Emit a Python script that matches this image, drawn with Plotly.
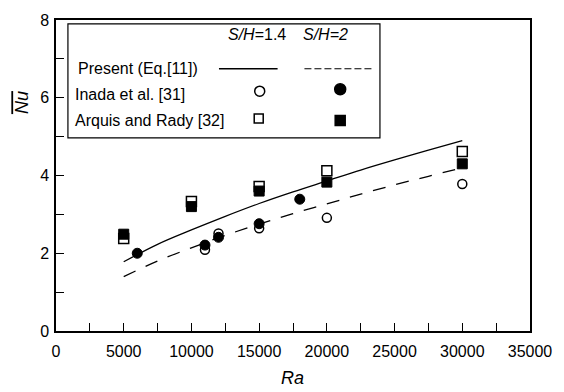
import plotly.graph_objects as go

# Data
ra_curve = [5000, 7500, 10000, 12500, 15000, 17500, 20000, 22500, 25000, 27500, 30000]
nu_present_14 = [1.78, 2.23, 2.60, 2.95, 3.28, 3.58, 3.86, 4.14, 4.40, 4.65, 4.90]
nu_present_2 = [1.40, 1.80, 2.14, 2.46, 2.75, 3.02, 3.27, 3.52, 3.76, 3.98, 4.20]

ra_inada_14 = [11000, 12000, 15000, 20000, 30000]
nu_inada_14 = [2.09, 2.51, 2.64, 2.91, 3.78]
ra_inada_2 = [6000, 11000, 12000, 15000, 18000]
nu_inada_2 = [2.00, 2.21, 2.41, 2.76, 3.39]

ra_arq_14 = [5000, 10000, 15000, 20000, 30000]
nu_arq_14 = [2.38, 3.33, 3.72, 4.12, 4.62]
ra_arq_2 = [5000, 10000, 15000, 20000, 30000]
nu_arq_2 = [2.49, 3.20, 3.60, 3.83, 4.30]

x_ticks = [0, 5000, 10000, 15000, 20000, 25000, 30000, 35000]
y_ticks = [0, 2, 4, 6, 8]

FONT = "Liberation Sans, Arial, sans-serif"

fig = go.Figure()
fig.add_trace(go.Scatter(x=ra_curve, y=nu_present_14, mode="lines", line_shape="spline",
                         line=dict(color="black", width=1.3), showlegend=False))
fig.add_trace(go.Scatter(x=ra_curve, y=nu_present_2, mode="lines", line_shape="spline",
                         line=dict(color="black", width=1.3, dash="13px,11px"), showlegend=False))
fig.add_trace(go.Scatter(x=ra_inada_14, y=nu_inada_14, mode="markers",
                         marker=dict(symbol="circle", size=9, color="white",
                                     line=dict(color="black", width=1.5)), showlegend=False))
fig.add_trace(go.Scatter(x=ra_arq_14, y=nu_arq_14, mode="markers",
                         marker=dict(symbol="square", size=10, color="white",
                                     line=dict(color="black", width=1.5)), showlegend=False))
fig.add_trace(go.Scatter(x=ra_inada_2, y=nu_inada_2, mode="markers",
                         marker=dict(symbol="circle", size=10, color="black",
                                     line=dict(color="black", width=1)), showlegend=False))
fig.add_trace(go.Scatter(x=ra_arq_2, y=nu_arq_2, mode="markers",
                         marker=dict(symbol="square", size=10, color="black",
                                     line=dict(color="black", width=1)), showlegend=False))

axis_common = dict(showgrid=False, zeroline=False, showline=True, linecolor="black",
                   linewidth=1.5, mirror=True, ticks="inside", ticklen=8, tickwidth=1.2,
                   tickcolor="black", tickfont=dict(family=FONT, size=16, color="black"))

fig.update_xaxes(range=[0, 35000], tickmode="array", tickvals=x_ticks,
                 ticktext=[str(v) for v in x_ticks], ticklabelstandoff=5,
                 minor=dict(dtick=2500, ticks="inside", ticklen=8, tickwidth=1.2, tickcolor="black"),
                 **axis_common)
fig.update_yaxes(range=[0, 8], tickmode="array", tickvals=y_ticks,
                 ticktext=[str(v) for v in y_ticks], ticklabelstandoff=2,
                 minor=dict(dtick=1, ticks="inside", ticklen=8, tickwidth=1.2, tickcolor="black"),
                 **axis_common)

# paper-coordinate helpers
L, R, T, B = 56, 533, 12, 331
def px(x):
    return (x - L) / (R - L)
def py(y):
    return (B - y) / (B - T)

shapes = []
shapes.append(dict(type="rect", xref="paper", yref="paper", x0=px(68), x1=px(382),
                   y0=py(133), y1=py(16), line=dict(color="black", width=1.2),
                   fillcolor="white", layer="above"))
shapes.append(dict(type="line", xref="paper", yref="paper", x0=px(220), x1=px(279),
                   y0=py(62), y1=py(62), line=dict(color="black", width=1.3)))
shapes.append(dict(type="line", xref="paper", yref="paper", x0=px(306), x1=px(374),
                   y0=py(62), y1=py(62), line=dict(color="black", width=1.1, dash="7px,3px")))
# legend symbols
def sym(kind, cx, cy, s, filled):
    return dict(type=kind, xref="paper", yref="paper", xsizemode="pixel", ysizemode="pixel",
                xanchor=px(cx), yanchor=py(cy), x0=-s / 2, x1=s / 2, y0=-s / 2, y1=s / 2,
                line=dict(color="black", width=1.5),
                fillcolor="black" if filled else "white", layer="above")
shapes.append(sym("circle", 261, 85, 10, False))
shapes.append(sym("circle", 342, 83, 11, True))
shapes.append(sym("rect", 260, 113, 9, False))
shapes.append(sym("rect", 342, 115, 10, True))

ann = []
def txt(t, x, y, xanchor="left", size=16, **kw):
    ann.append(dict(text=t, xref="paper", yref="paper", x=px(x), y=py(y), xanchor=xanchor,
                    yanchor="middle", showarrow=False,
                    font=dict(family=FONT, size=size, color="black"), **kw))
txt("<i>S/H</i>=1.4", 258, 27, xanchor="center")
txt("<i>S/H=2</i>", 327, 27, xanchor="center")
txt("Present (Eq.[11])", 76, 62)
txt("Inada et al. [31]", 73, 88)
txt("Arquis and Rady [32]", 73, 115)
txt("<i>Ra</i>", 294, 379, xanchor="center", size=18)
ann.append(dict(text="<span style='text-decoration:overline'><i>Nu</i></span>", xref="paper", yref="paper",
                x=px(22), y=py(97), xanchor="center", yanchor="middle", textangle=-90,
                showarrow=False, font=dict(family=FONT, size=18, color="black")))

fig.update_layout(width=564, height=392, margin=dict(l=L, r=564 - R, t=T, b=392 - B),
                  paper_bgcolor="white", plot_bgcolor="white", shapes=shapes, annotations=ann,
                  showlegend=False)

fig.write_html("out.html")
